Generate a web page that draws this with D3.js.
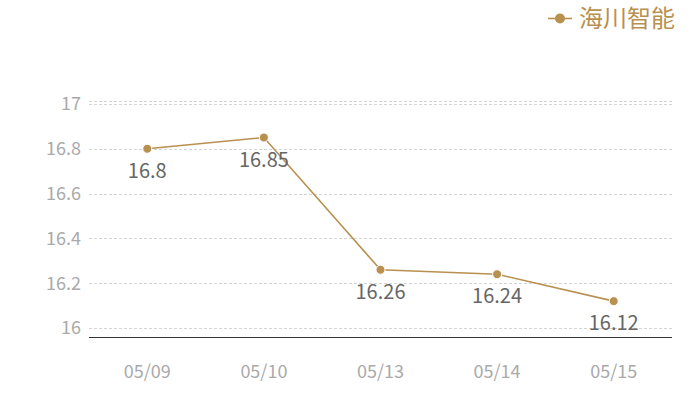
<!DOCTYPE html>
<html><head><meta charset="utf-8">
<script src="https://cdn.jsdelivr.net/npm/d3@7"></script>
<style>body{margin:0;background:#fff;}svg{display:block;font-family:"Noto Sans CJK SC","Noto Sans",sans-serif;}</style>
</head><body>
<svg id="c" width="700" height="400"></svg>
<script>
const categories = ["05/09","05/10","05/13","05/14","05/15"];
const values = [16.8, 16.85, 16.26, 16.24, 16.12];
const yTicks = [16, 16.2, 16.4, 16.6, 16.8, 17];
const seriesName = "海川智能";
const color = "#b8904f";

const svg = d3.select("#c");
const L = 89, R = 672, T = 101, B = 337;
const x = d3.scalePoint().domain(categories).range([L, R]).padding(0.5);
const y = d3.scaleLinear().domain([15.96, 17.013]).range([B, T]);

svg.append("line").attr("x1", L).attr("x2", R).attr("y1", T + 0.5).attr("y2", T + 0.5)
  .attr("stroke", "#d4d4d4").attr("stroke-dasharray", "3,2");
svg.append("g").selectAll("line").data(yTicks).join("line")
  .attr("x1", L).attr("x2", R).attr("y1", d => Math.round(y(d)) + 0.5).attr("y2", d => Math.round(y(d)) + 0.5)
  .attr("stroke", "#d4d4d4").attr("stroke-dasharray", "3,2");
svg.append("g").selectAll("text").data(yTicks).join("text")
  .attr("x", 81).attr("y", d => y(d)).attr("dy", "0.35em").attr("text-anchor", "end")
  .attr("fill", "#aaa").attr("font-size", 18).text(d => d3.format("~g")(d));
svg.append("line").attr("x1", L).attr("x2", R).attr("y1", B + 0.5).attr("y2", B + 0.5)
  .attr("stroke", "#333").attr("stroke-width", 1);
svg.append("g").selectAll("text").data(categories).join("text")
  .attr("x", d => x(d)).attr("y", 372).attr("dy", "0.35em").attr("text-anchor", "middle")
  .attr("fill", "#aaa").attr("font-size", 18).text(d => d);

const data = categories.map((c, i) => ({c, v: values[i]}));
svg.append("path").datum(data)
  .attr("d", d3.line().x(d => x(d.c)).y(d => y(d.v)))
  .attr("fill", "none").attr("stroke", color).attr("stroke-width", 1.6);
svg.append("g").selectAll("circle").data(data).join("circle")
  .attr("cx", d => x(d.c)).attr("cy", d => y(d.v)).attr("r", 4.5)
  .attr("fill", color).attr("stroke", "#fff").attr("stroke-width", 1);
svg.append("g").selectAll("text").data(data).join("text")
  .attr("x", d => x(d.c)).attr("y", d => y(d.v) + 22).attr("dy", "0.35em").attr("text-anchor", "middle")
  .attr("fill", "#666").attr("font-size", 20).text(d => d.v);

const lg = svg.append("g");
lg.append("line").attr("x1", 548).attr("x2", 572).attr("y1", 18.5).attr("y2", 18.5).attr("stroke", color).attr("stroke-width", 1.6);
lg.append("circle").attr("cx", 560).attr("cy", 18.5).attr("r", 5).attr("fill", color);
lg.append("text").attr("x", 579).attr("y", 19).attr("dy", "0.35em").attr("fill", color).attr("font-size", 24).text(seriesName);
</script>
</body></html>
